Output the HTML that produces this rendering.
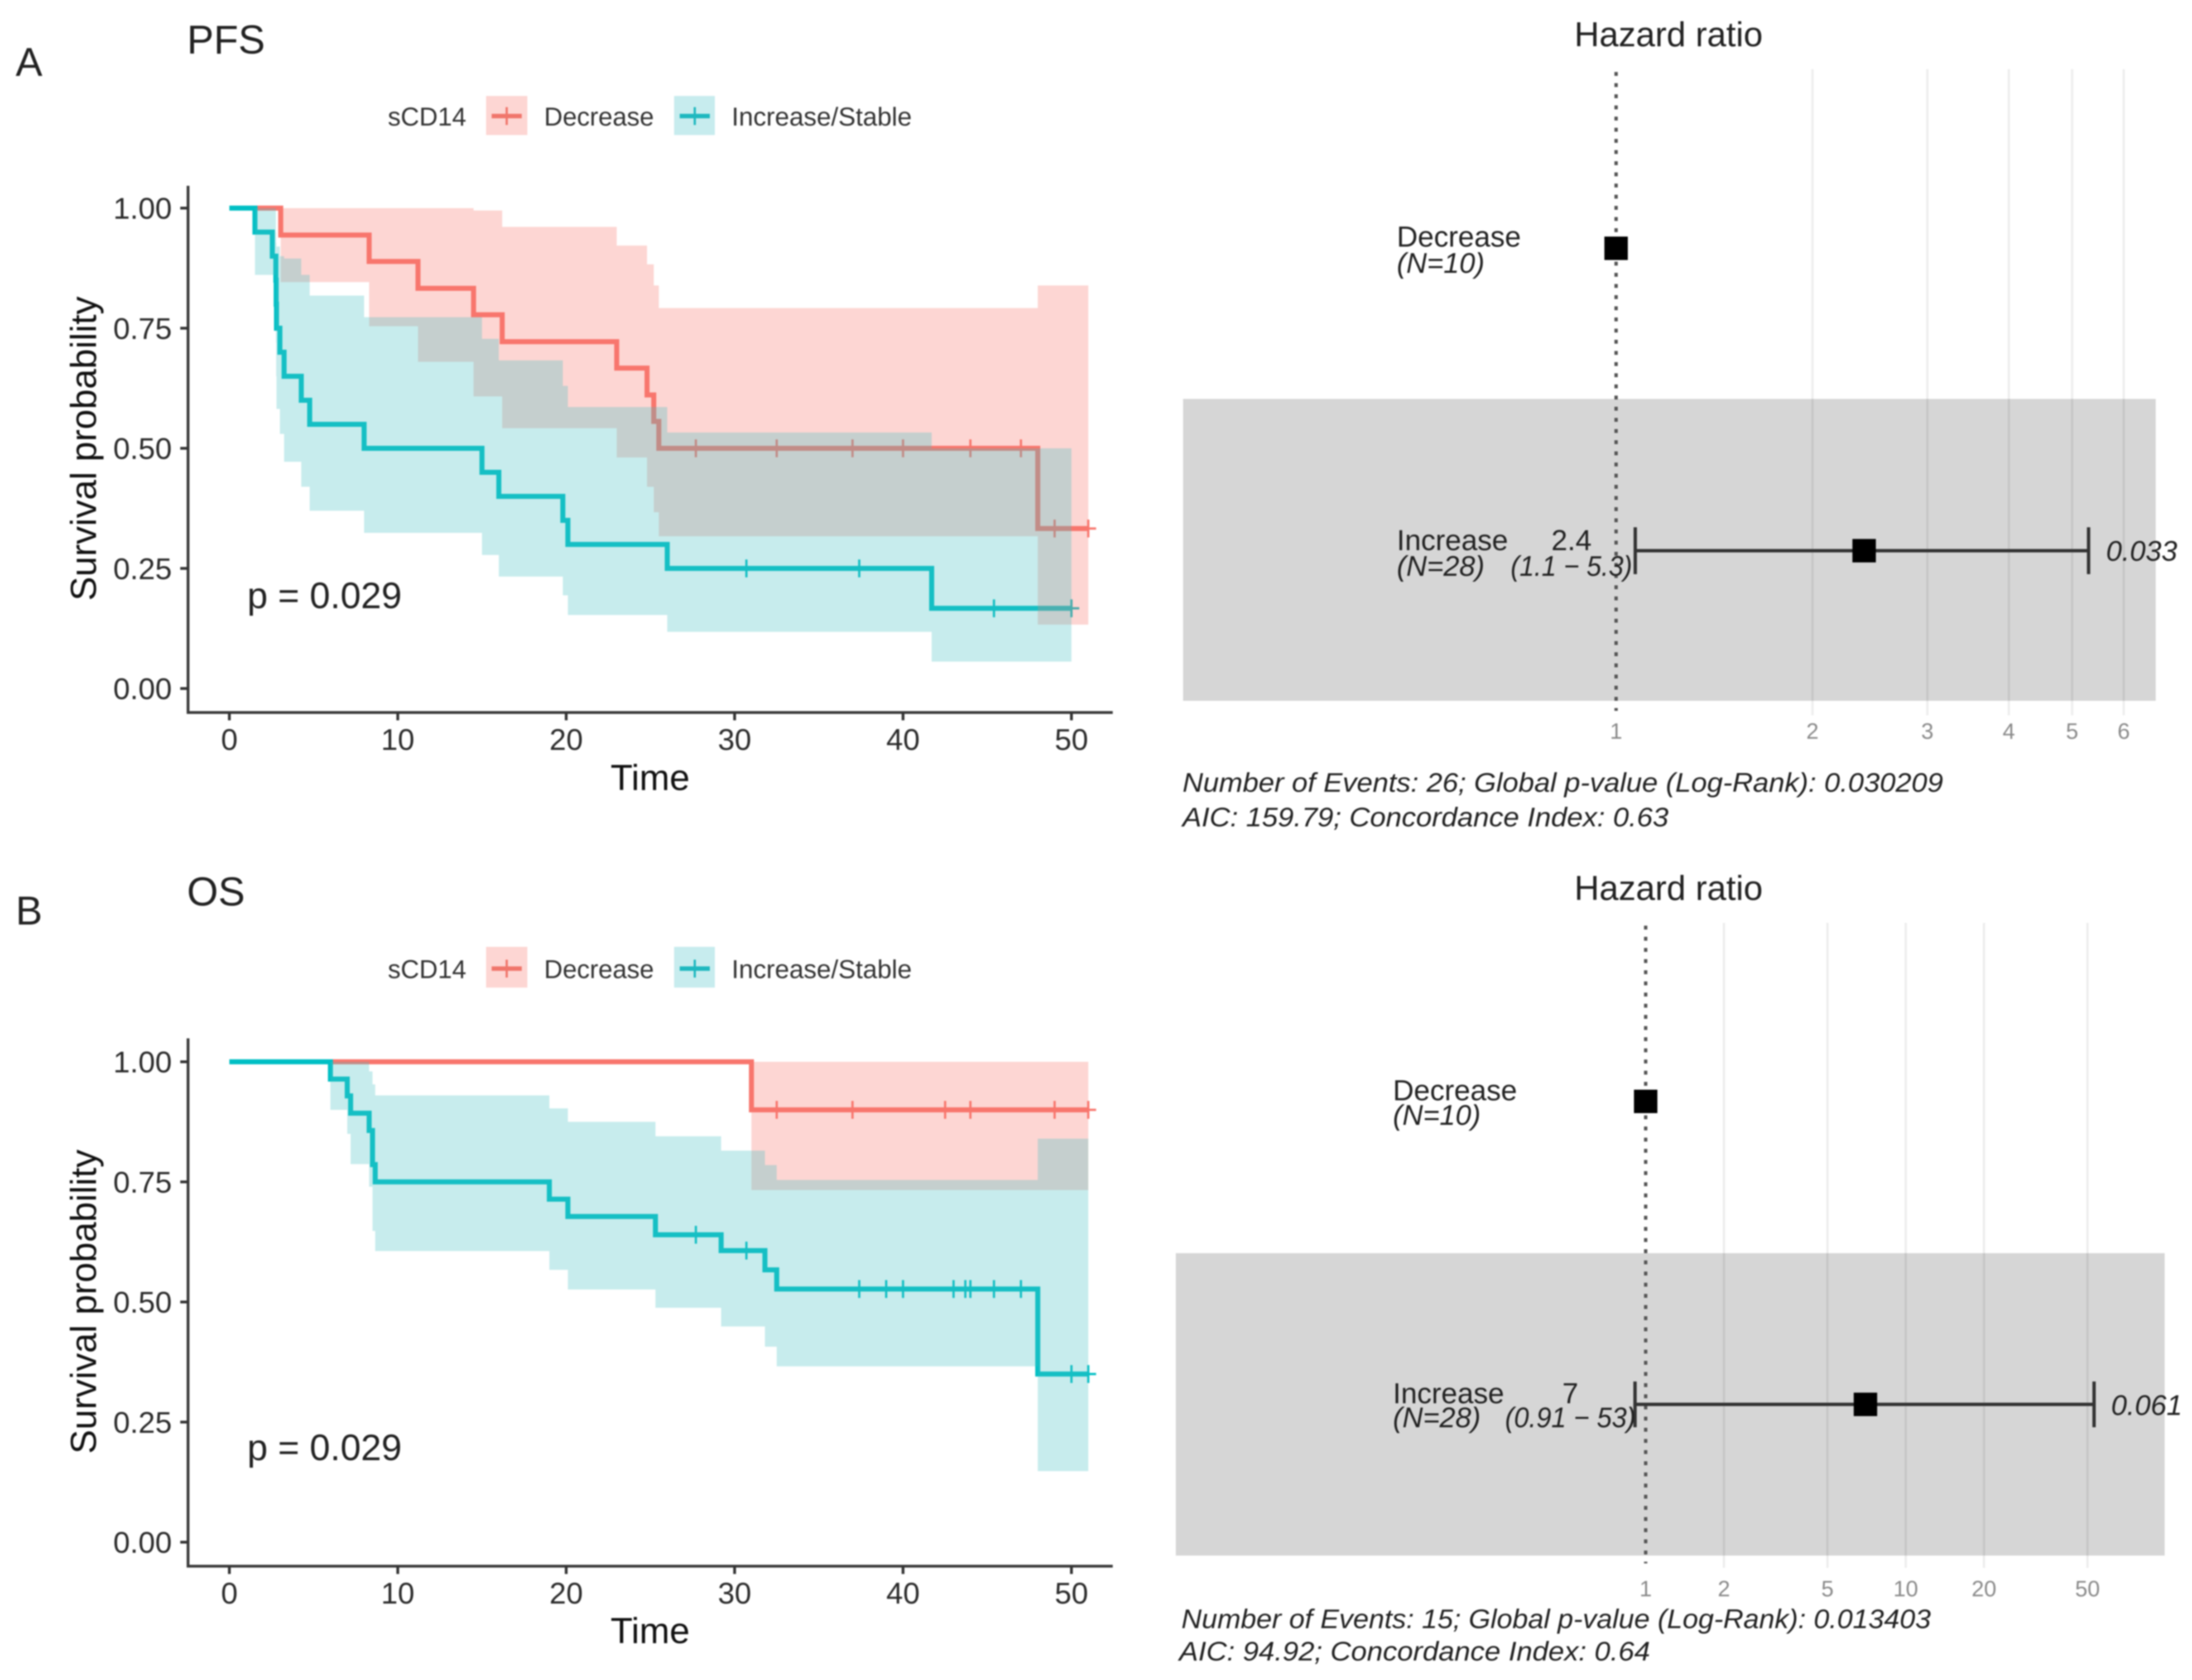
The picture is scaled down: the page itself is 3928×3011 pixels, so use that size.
<!DOCTYPE html>
<html lang="en">
<head>
<meta charset="utf-8">
<title>sCD14 survival and hazard ratio panels</title>
<style>
html,body{margin:0;padding:0;background:#fff;}
svg{display:block;filter:blur(1.4px);}
text{font-family:"Liberation Sans",sans-serif;}
.tick{font-size:54px;fill:#2b2b2b;}
.axt{font-size:65px;fill:#111;}
.leg{font-size:46px;fill:#333;}
.fr{font-size:52px;fill:#222;}
.fi{font-size:51px;fill:#222;font-style:italic;}
.foot{font-size:48px;fill:#222;font-style:italic;}
.ft{font-size:40px;fill:#8a8a8a;}
</style>
</head>
<body>
<svg id="fig" xmlns="http://www.w3.org/2000/svg" width="3928" height="3011" viewBox="0 0 3928 3011">
<rect width="3928" height="3011" fill="#fff"/>

<text x="28" y="136" font-size="72" fill="#222">A</text>
<text x="335" y="96" font-size="72" fill="#222">PFS</text>
<text x="28" y="1657" font-size="72" fill="#222">B</text>
<text x="335" y="1623" font-size="72" fill="#222">OS</text>

<g>
  <text class="leg" x="695" y="225">sCD14</text>
  <rect x="871" y="172" width="74" height="70" fill="#fdd6d3"/>
  <path d="M881 208H935" stroke="#f0766c" stroke-width="8" fill="none"/>
  <path d="M908 192V224" stroke="#f0766c" stroke-width="4" fill="none"/>
  <text class="leg" x="975" y="225">Decrease</text>
  <rect x="1208" y="172" width="73" height="70" fill="#c7ecee"/>
  <path d="M1218 208H1272" stroke="#1fb8bf" stroke-width="8" fill="none"/>
  <path d="M1245 192V224" stroke="#1fb8bf" stroke-width="4" fill="none"/>
  <text class="leg" x="1311" y="225" textLength="323" lengthAdjust="spacingAndGlyphs">Increase/Stable</text>
</g>
<g>
  <text class="leg" x="695" y="1753">sCD14</text>
  <rect x="871" y="1697" width="74" height="73" fill="#fdd6d3"/>
  <path d="M881 1736H935" stroke="#f0766c" stroke-width="8" fill="none"/>
  <path d="M908 1720V1752" stroke="#f0766c" stroke-width="4" fill="none"/>
  <text class="leg" x="975" y="1753">Decrease</text>
  <rect x="1208" y="1697" width="73" height="73" fill="#c7ecee"/>
  <path d="M1218 1736H1272" stroke="#1fb8bf" stroke-width="8" fill="none"/>
  <path d="M1245 1720V1752" stroke="#1fb8bf" stroke-width="4" fill="none"/>
  <text class="leg" x="1311" y="1753" textLength="323" lengthAdjust="spacingAndGlyphs">Increase/Stable</text>
</g>

<g id="pfs-km"></g>
<g id="os-km"></g>

<text class="axt" x="1165" y="1416" text-anchor="middle">Time</text>
<text class="axt" x="1165" y="2945" text-anchor="middle">Time</text>
<text class="axt" transform="translate(172 804) rotate(-90)" text-anchor="middle">Survival probability</text>
<text class="axt" transform="translate(172 2333) rotate(-90)" text-anchor="middle">Survival probability</text>
<text x="443" y="1090" font-size="66" fill="#222">p = 0.029</text>
<text x="443" y="2617" font-size="66" fill="#222">p = 0.029</text>

<g id="pfs-forest"></g>
<g id="os-forest"></g>

<g>
  <text x="2990" y="83" font-size="62" fill="#222" text-anchor="middle">Hazard ratio</text>
  <text class="fr" x="2503" y="442">Decrease</text>
  <text class="fi" x="2503" y="489">(N=10)</text>
  <text class="fr" x="2503" y="986">Increase</text>
  <text class="fi" x="2503" y="1032">(N=28)</text>
  <text class="fr" x="2816" y="986" text-anchor="middle">2.4</text>
  <text class="fi" x="2816" y="1032" text-anchor="middle" textLength="218" lengthAdjust="spacingAndGlyphs">(1.1 − 5.3)</text>
  <text class="fi" x="3774" y="1005">0.033</text>
  <text class="foot" x="2119" y="1419" textLength="1363" lengthAdjust="spacingAndGlyphs">Number of Events: 26; Global p-value (Log-Rank): 0.030209</text>
  <text class="foot" x="2119" y="1481" textLength="871" lengthAdjust="spacingAndGlyphs">AIC: 159.79; Concordance Index: 0.63</text>
</g>
<g>
  <text x="2990" y="1613" font-size="62" fill="#222" text-anchor="middle">Hazard ratio</text>
  <text class="fr" x="2496" y="1972">Decrease</text>
  <text class="fi" x="2496" y="2016">(N=10)</text>
  <text class="fr" x="2496" y="2515">Increase</text>
  <text class="fi" x="2496" y="2558">(N=28)</text>
  <text class="fr" x="2814" y="2515" text-anchor="middle">7</text>
  <text class="fi" x="2814" y="2558" text-anchor="middle" textLength="234" lengthAdjust="spacingAndGlyphs">(0.91 − 53)</text>
  <text class="fi" x="3783" y="2536">0.061</text>
  <text class="foot" x="2117" y="2918" textLength="1343" lengthAdjust="spacingAndGlyphs">Number of Events: 15; Global p-value (Log-Rank): 0.013403</text>
  <text class="foot" x="2113" y="2976" textLength="844" lengthAdjust="spacingAndGlyphs">AIC: 94.92; Concordance Index: 0.64</text>
</g>
</svg>

<script>
// Axis tick labels
const xTicks = [0, 10, 20, 30, 40, 50];
const yTicks = [0, 0.25, 0.5, 0.75, 1];

// PFS, Decrease group
const pfsDecTimes = [0, 3.05, 8.3, 11.2, 14.5, 16.2, 23, 24.8, 25.2, 25.5, 48];
const pfsDecSurv  = [1, 0.944, 0.889, 0.833, 0.778, 0.722, 0.667, 0.611, 0.556, 0.5, 0.333];
const pfsDecUpper = [1, 1, 1, 1, 0.995, 0.961, 0.922, 0.883, 0.839, 0.792, 0.839];
const pfsDecLower = [1, 0.846, 0.754, 0.68, 0.608, 0.542, 0.481, 0.42, 0.367, 0.317, 0.133];
const pfsDecEnd = 51;
const pfsDecCensor = [27.7, 32.5, 37, 40, 44, 47, 49, 51];

// PFS, Increase/Stable group
const pfsIncTimes = [0, 1.52, 2.55, 2.76, 2.78, 2.8, 3, 3.25, 4.27, 4.77, 8, 15, 16, 19.8, 20.1, 26, 41.7];
const pfsIncSurv  = [1, 0.95, 0.9, 0.85, 0.8, 0.75, 0.7, 0.65, 0.6, 0.55, 0.5, 0.45, 0.4, 0.35, 0.3, 0.25, 0.167];
const pfsIncUpper = [1, 1, 1, 0.95, 0.928, 0.92, 0.9, 0.895, 0.861, 0.818, 0.773, 0.728, 0.683, 0.63, 0.586, 0.533, 0.5];
const pfsIncLower = [1, 0.861, 0.861, 0.72, 0.65, 0.582, 0.53, 0.472, 0.42, 0.37, 0.324, 0.278, 0.233, 0.194, 0.153, 0.118, 0.056];
const pfsIncEnd = 50;
const pfsIncCensor = [30.7, 37.4, 45.4, 50];

// OS, Decrease group
const osDecTimes = [0, 31];
const osDecSurv  = [1, 0.9];
const osDecUpper = [1, 1];
const osDecLower = [1, 0.733];
const osDecEnd = 51;
const osDecCensor = [32.5, 37, 42.5, 44, 49, 51];

// OS, Increase/Stable group
const osIncTimes = [0, 6, 7, 7.2, 8.3, 8.5, 8.66, 19, 20.1, 25.3, 29.2, 31.8, 32.5, 48];
const osIncSurv  = [1, 0.964, 0.929, 0.893, 0.857, 0.786, 0.75, 0.714, 0.678, 0.64, 0.607, 0.567, 0.527, 0.35];
const osIncUpper = [1, 1, 1, 1, 0.98, 0.953, 0.93, 0.903, 0.875, 0.845, 0.815, 0.785, 0.754, 0.84];
const osIncLower = [1, 0.9, 0.85, 0.787, 0.74, 0.648, 0.606, 0.567, 0.526, 0.488, 0.449, 0.407, 0.366, 0.148];
const osIncEnd = 51;
const osIncCensor = [27.7, 30.7, 37.4, 39, 40, 43, 43.7, 44, 45.4, 47, 50, 51];

// Forest plots
const pfsForestTicks = [1, 2, 3, 4, 5, 6];
const pfsForestHr = [1, 2.4];
const pfsForestLow = [null, 1.07];
const pfsForestHigh = [null, 5.3];
const osForestTicks = [1, 2, 5, 10, 20, 50];
const osForestHr = [1, 7];
const osForestLow = [null, 0.91];
const osForestHigh = [null, 53];

const NS = 'http://www.w3.org/2000/svg';
function make(parent, tag, attrs, txt) {
  const el = document.createElementNS(NS, tag);
  for (const k in attrs) el.setAttribute(k, attrs[k]);
  if (txt !== undefined) el.textContent = txt;
  parent.appendChild(el);
  return el;
}
function stepLine(xs, ss, end, x, y) {
  let d = 'M' + x(xs[0]) + ' ' + y(ss[0]);
  for (let i = 1; i < xs.length; i++) d += 'H' + x(xs[i]) + 'V' + y(ss[i]);
  return d + 'H' + x(end);
}
function ribbon(xs, up, lo, end, x, y) {
  let d = 'M' + x(xs[0]) + ' ' + y(up[0]);
  for (let i = 1; i < xs.length; i++) d += 'H' + x(xs[i]) + 'V' + y(up[i]);
  d += 'H' + x(end) + 'V' + y(lo[lo.length - 1]);
  for (let i = xs.length - 1; i > 0; i--) d += 'H' + x(xs[i]) + 'V' + y(lo[i - 1]);
  return d + 'H' + x(xs[0]) + 'Z';
}
function survAt(xs, ss, t) {
  let s = ss[0];
  for (let i = 0; i < xs.length; i++) if (xs[i] <= t) s = ss[i];
  return s;
}

function drawKM(g, prefix, top, bottom, y1, y0, groups) {
  const x = t => 411 + t * 30.18;
  const y = s => y0 - s * (y0 - y1);

  // lines first, ribbons drawn over them like the original
  groups.forEach(gr => {
    const line = make(g, 'path', {d: stepLine(gr.t, gr.s, gr.end, x, y), fill: 'none', stroke: gr.line, 'stroke-width': 9});
    
    
    gr.c.forEach(ct => {
      const cy = y(survAt(gr.t, gr.s, ct));
      const m = make(g, 'path', {d: 'M' + x(ct) + ' ' + (cy - 16) + 'V' + (cy + 16) + 'M' + (x(ct) - 14) + ' ' + cy + 'H' + (x(ct) + 14), fill: 'none', stroke: gr.line, 'stroke-width': 4});
      
      
    });
  });
  groups.forEach(gr => {
    const rb = make(g, 'path', {d: ribbon(gr.t, gr.u, gr.l, gr.end, x, y), fill: gr.fill});
    
    
  });

  const axis = make(g, 'path', {d: 'M337 ' + top + 'V' + bottom + 'H1994', fill: 'none', stroke: '#3a3a3a', 'stroke-width': 5});
  
  

  yTicks.forEach(v => {
    const tk = make(g, 'line', {x1: 323, x2: 337, y1: y(v), y2: y(v), stroke: '#333', 'stroke-width': 5});
    
    
    const lb = make(g, 'text', {x: 308, y: y(v) + 19, 'text-anchor': 'end', class: 'tick'}, v.toFixed(2));
    
    
  });
  xTicks.forEach(v => {
    const tk = make(g, 'line', {x1: x(v), x2: x(v), y1: bottom, y2: bottom + 14, stroke: '#333', 'stroke-width': 5});
    
    
    const lb = make(g, 'text', {x: x(v), y: bottom + 67, 'text-anchor': 'middle', class: 'tick'}, String(v));
    
    
  });
}

function drawForest(g, prefix, o) {
  const x = v => o.x1 + Math.log10(v) * o.dec;
  const band = make(g, 'rect', {x: o.left, y: o.bandTop, width: o.right - o.left, height: o.bandBottom - o.bandTop, fill: '#d6d6d6'});
  
  

  o.ticks.forEach(v => {
    if (v !== 1) {
      const gl = make(g, 'line', {x1: x(v), x2: x(v), y1: o.gridTop, y2: o.gridBottom, stroke: 'rgba(0,0,0,0.07)', 'stroke-width': 4});
      
      
    }
    const lb = make(g, 'text', {x: x(v), y: o.tickY, 'text-anchor': 'middle', class: 'ft'}, String(v));
    
    
  });

  const ref = make(g, 'line', {x1: x(1), x2: x(1), y1: o.gridTop + 5, y2: o.gridBottom - 8, stroke: '#555', 'stroke-width': 6, 'stroke-dasharray': '7 13'});
  
  

  o.hr.forEach((v, i) => {
    const cy = o.rowY[i];
    if (o.low[i] !== null) {
      const ci = make(g, 'path', {d: 'M' + x(o.low[i]) + ' ' + cy + 'H' + x(o.high[i]) + 'M' + x(o.low[i]) + ' ' + (cy - o.cap) + 'V' + (cy + o.cap) + 'M' + x(o.high[i]) + ' ' + (cy - o.cap) + 'V' + (cy + o.cap), fill: 'none', stroke: '#333', 'stroke-width': 6});
      
      
    }
    const sq = make(g, 'rect', {x: x(v) - 21, y: cy - 21, width: 42, height: 42, fill: '#000'});
    
    
  });
}

const RED = '#f8766d', TEAL = '#00bfc4';
const RED_FILL = 'rgba(248,118,109,0.3)', TEAL_FILL = 'rgba(70,191,196,0.3)';

drawKM(document.getElementById('pfs-km'), 'pfs', 333, 1277, 373, 1234, [
  {key: 'decrease', t: pfsDecTimes, s: pfsDecSurv, u: pfsDecUpper, l: pfsDecLower, end: pfsDecEnd, c: pfsDecCensor, line: RED, fill: RED_FILL},
  {key: 'increase', t: pfsIncTimes, s: pfsIncSurv, u: pfsIncUpper, l: pfsIncLower, end: pfsIncEnd, c: pfsIncCensor, line: TEAL, fill: TEAL_FILL}
]);
drawKM(document.getElementById('os-km'), 'os', 1861, 2807, 1903, 2764, [
  {key: 'decrease', t: osDecTimes, s: osDecSurv, u: osDecUpper, l: osDecLower, end: osDecEnd, c: osDecCensor, line: RED, fill: RED_FILL},
  {key: 'increase', t: osIncTimes, s: osIncSurv, u: osIncUpper, l: osIncLower, end: osIncEnd, c: osIncCensor, line: TEAL, fill: TEAL_FILL}
]);

drawForest(document.getElementById('pfs-forest'), 'pfs-forest', {
  x1: 2896, dec: 1169, left: 2120, right: 3863, bandTop: 715, bandBottom: 1256,
  gridTop: 124, gridBottom: 1282, tickY: 1324, rowY: [445, 987], cap: 42,
  ticks: pfsForestTicks, hr: pfsForestHr, low: pfsForestLow, high: pfsForestHigh
});
drawForest(document.getElementById('os-forest'), 'os-forest', {
  x1: 2949, dec: 466, left: 2107, right: 3879, bandTop: 2246, bandBottom: 2788,
  gridTop: 1654, gridBottom: 2810, tickY: 2861, rowY: [1974, 2517], cap: 41,
  ticks: osForestTicks, hr: osForestHr, low: osForestLow, high: osForestHigh
});
</script>
</body>
</html>
